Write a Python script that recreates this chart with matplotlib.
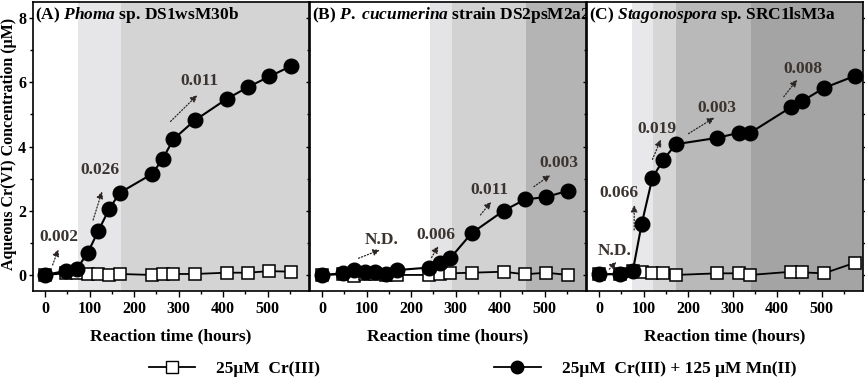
import matplotlib
matplotlib.use('Agg')
import matplotlib.pyplot as plt
from matplotlib.lines import Line2D

plt.rcParams['font.family'] = ['Liberation Serif', 'DejaVu Serif']
plt.rcParams['font.weight'] = 'bold'
plt.rcParams['axes.labelweight'] = 'bold'
plt.rcParams['mathtext.fontset'] = 'custom'
plt.rcParams['mathtext.it'] = 'Liberation Serif:italic:bold'
plt.rcParams['mathtext.rm'] = 'Liberation Serif:bold'

# ---- data ----
t_a = [0, 48, 72, 96, 120, 144, 168, 240, 264, 288, 336, 408, 456, 504, 552]
mn_a = [0, 0.13, 0.2, 0.69, 1.38, 2.05, 2.56, 3.14, 3.6, 4.22, 4.81, 5.48, 5.85, 6.18, 6.5]
mn_a_err = [0, 0.03, 0.03, 0.05, 0.08, 0.08, 0.05, 0.08, 0.1, 0.1, 0.08, 0.12, 0.1, 0.08, 0.12]
cr_a = [0, 0.05, 0.05, 0.03, 0.03, 0.0, 0.03, 0.0, 0.03, 0.03, 0.03, 0.07, 0.07, 0.12, 0.1]

t_b = [0, 48, 72, 96, 120, 144, 168, 240, 264, 288, 336, 408, 456, 504, 552]
mn_b = [0, 0.05, 0.15, 0.1, 0.1, 0.03, 0.15, 0.23, 0.36, 0.52, 1.3, 2.0, 2.35, 2.43, 2.62]
mn_b_err = [0, 0.02, 0.02, 0.02, 0.02, 0.02, 0.02, 0.03, 0.03, 0.03, 0.04, 0.04, 0.04, 0.04, 0.04]
cr_b = [0, 0.02, -0.03, 0.03, 0.03, 0.0, 0.0, 0.0, 0.02, 0.05, 0.07, 0.1, 0.02, 0.07, 0.0]

t_c = [0, 48, 76, 96, 120, 144, 172, 266, 315, 340, 432, 456, 505, 575]
mn_c = [0.02, 0.03, 0.13, 1.6, 3.03, 3.57, 4.07, 4.27, 4.43, 4.43, 5.23, 5.41, 5.82, 6.2]
mn_c_err = [0, 0.02, 0.03, 0.22, 0.05, 0.05, 0.05, 0.05, 0.05, 0.05, 0.05, 0.05, 0.05, 0.05]
cr_c = [0.02, 0.02, 0.13, 0.1, 0.05, 0.07, 0.0, 0.05, 0.05, 0.0, 0.1, 0.08, 0.05, 0.38]

# shaded phases: (start, end, colour)
shade_a = [(73, 171, '#e6e6e8'), (171, 620, '#d4d4d4')]
shade_b = [(243, 293, '#e4e4e6'), (293, 458, '#d2d2d2'), (458, 620, '#b4b4b4')]
shade_c = [(73, 122, '#e8e8ea'), (122, 172, '#d6d6d6'), (172, 342, '#b9b9b9'), (342, 620, '#a4a4a4')]

# rate labels: text, text pos, arrow tail, arrow head
rates_a = [('0.002', (32, 1.17), (17, 0.31), (30, 0.8)),
           ('0.026', (124, 3.26), (108, 1.71), (128, 2.6)),
           ('0.011', (347, 6.05), (282, 4.78), (342, 5.6))]
rates_b = [('N.D.', (135, 1.09), (82, 0.52), (130, 0.78)),
           ('0.006', (255, 1.24), (246, 0.54), (261, 0.9)),
           ('0.011', (375, 2.66), (356, 1.87), (380, 2.28)),
           ('0.003', (532, 3.49), (476, 2.75), (513, 3.11))]
rates_c = [('N.D.', (35, 0.76), (23, 0.18), (39, 0.41)),
           ('0.066', (45, 2.56), (79, 1.4), (79, 2.18)),
           ('0.019', (131, 4.56), (120, 3.6), (139, 4.22)),
           ('0.003', (265, 5.2), (201, 4.4), (259, 4.9)),
           ('0.008', (459, 6.42), (415, 5.55), (445, 6.08))]

titles = [r'(A) $\mathit{Phoma}$ sp. DS1wsM30b',
          r'(B) $\mathit{P.}$ $\mathit{cucumerina}$ strain DS2psM2a2',
          r'(C) $\mathit{Stagonospora}$ sp. SRC1lsM3a']

fig = plt.figure(figsize=(8.65, 3.78), dpi=100)
lefts = [33, 310, 587]
w = 276
panels = [(t_a, mn_a, mn_a_err, cr_a, shade_a, rates_a),
          (t_b, mn_b, mn_b_err, cr_b, shade_b, rates_b),
          (t_c, mn_c, mn_c_err, cr_c, shade_c, rates_c)]

txtc = '#3a3330'
for i, (t, mn, mne, cr, shade, rates) in enumerate(panels):
    ax = fig.add_axes([lefts[i] / 865, 1 - 291 / 378, w / 865, 289 / 378])
    for s0, s1, c in shade:
        ax.axvspan(s0, s1, color=c, lw=0, zorder=0)
    ax.errorbar(t, cr, yerr=0.03, color='black', lw=1.3, marker='s', ms=8,
                mfc='white', mec='black', mew=1.1, capsize=1.5, elinewidth=0.8, zorder=3)
    ax.errorbar(t, mn, yerr=mne, color='black', lw=1.5, marker='o', ms=10.5,
                mfc='black', mec='black', capsize=2, elinewidth=1, zorder=4)
    for lab, tp, a0, a1 in rates:
        ax.annotate('', xy=a1, xytext=a0,
                    arrowprops=dict(arrowstyle='-|>', linestyle=(0, (1, 1.5)), lw=0.9,
                                    color='#2a2522', mutation_scale=10, shrinkA=0, shrinkB=0),
                    zorder=5)
        ax.text(tp[0], tp[1], lab, ha='center', va='center', fontsize=12.5,
                color=txtc, fontweight='bold', zorder=5)
    ax.text(0.008, 0.955, titles[i], transform=ax.transAxes, fontsize=12.5,
            ha='left', va='center', zorder=6)
    ax.set_xlim(-27, 593)
    ax.set_ylim(-0.5, 8.5)
    ax.set_xticks([0, 100, 200, 300, 400, 500])
    ax.set_xticks([50, 150, 250, 350, 450, 550], minor=True)
    ax.set_yticks([0, 2, 4, 6, 8])
    ax.set_yticks([1, 3, 5, 7], minor=True)
    ax.tick_params(axis='x', which='both', direction='out', labelsize=11.5)
    ax.tick_params(axis='x', which='major', length=4, width=1)
    ax.tick_params(axis='x', which='minor', length=2.5, width=1)
    ax.tick_params(axis='y', which='both', direction='out', right=True, labelsize=11.5, pad=2)
    ax.tick_params(axis='y', which='major', length=3, width=1)
    ax.tick_params(axis='y', which='minor', length=2, width=1)
    for lbl in ax.get_xticklabels() + ax.get_yticklabels():
        lbl.set_fontweight('bold')
    for sp in ax.spines.values():
        sp.set_linewidth(1.2)
    if i > 0:
        ax.tick_params(axis='y', labelleft=False)
    else:
        ax.set_ylabel('Aqueous Cr(VI) Concentration (\u03bcM)', fontsize=11.5,
                      fontweight='bold')
        ax.yaxis.label.set_va('center')
        ax.yaxis.set_label_coords(-0.088, 0.51)
    ax.set_xlabel('Reaction time (hours)', fontsize=12.5, fontweight='bold', labelpad=8)

handles = [Line2D([], [], color='black', lw=1.3, marker='s', ms=8, mfc='white', mec='black'),
           Line2D([], [], color='black', lw=1.3, marker='o', ms=9, mfc='black')]
labels = ['25\u03bcM  Cr(III)', '25\u03bcM  Cr(III) + 125 \u03bcM Mn(II)']
fig.legend(handles, labels, loc='center', bbox_to_anchor=(0.546, 0.024), ncol=2,
           frameon=False, handlelength=2.7, handletextpad=1.2, columnspacing=10,
           prop={'size': 12.5, 'weight': 'bold'})

fig.savefig('out.png', dpi=100)
